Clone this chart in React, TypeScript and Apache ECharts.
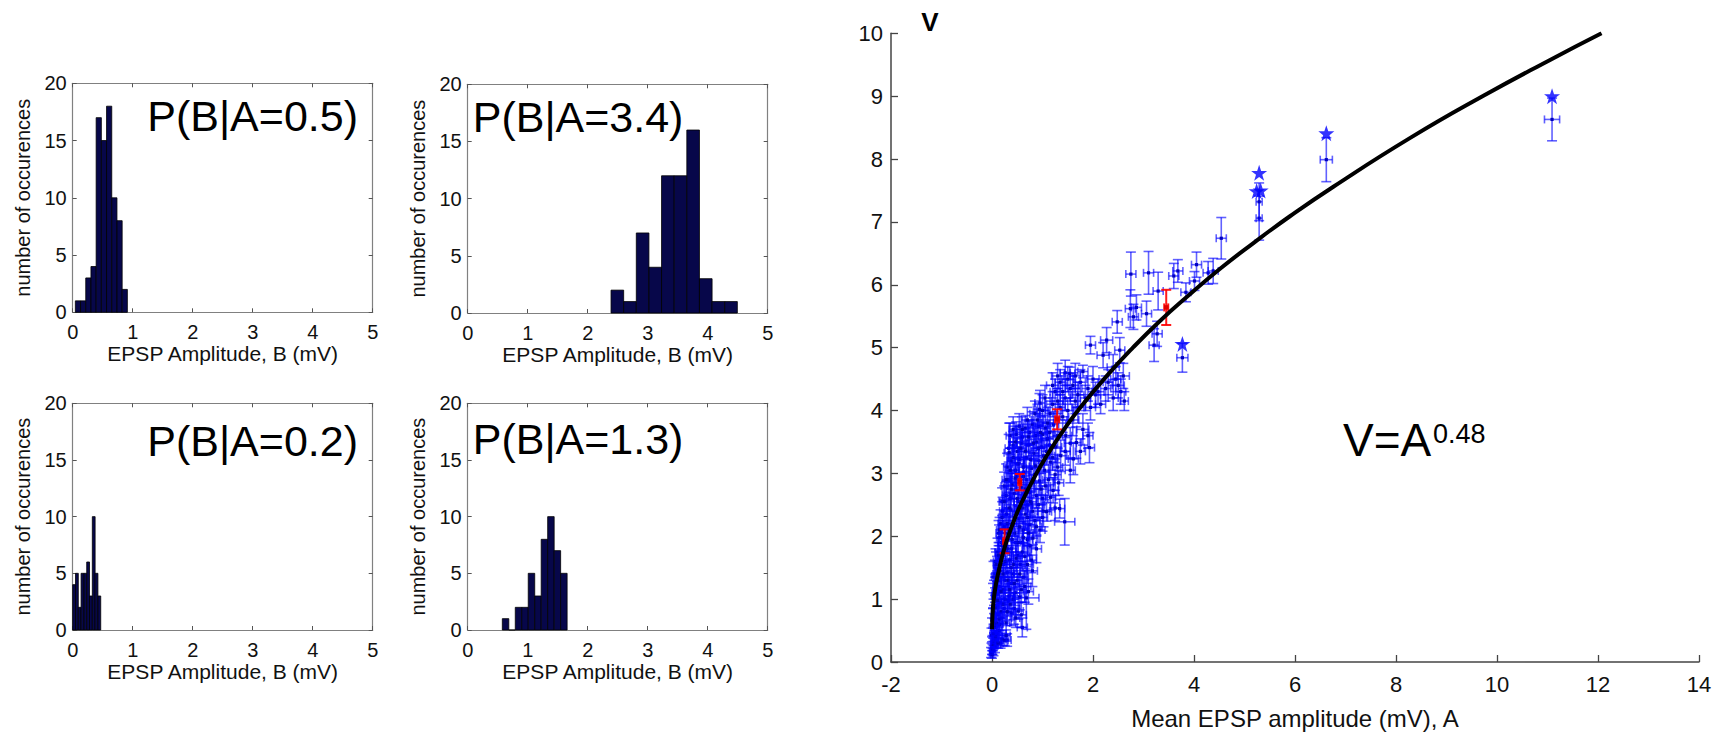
import React, { useEffect, useRef } from 'react';
import * as echarts from 'echarts';

const FONT = "'Liberation Sans', Arial, Helvetica, sans-serif";

// ---------- Histogram data (bin start, bin width, counts) ----------
const histLabels = ['P(B|A=0.5)', 'P(B|A=3.4)', 'P(B|A=0.2)', 'P(B|A=1.3)'];
const histStarts = [0.044, 2.389, 0.0, 0.577];
const histWidths = [0.0867, 0.2105, 0.0467, 0.108];
const countsA05 = [1, 1, 3, 4, 17, 15, 18, 10, 8, 2];
const countsA34 = [2, 1, 7, 4, 12, 12, 16, 3, 1, 1];
const countsA02 = [4, 5, 2, 5, 5, 6, 3, 10, 5, 3];
const countsA13 = [1, 0, 2, 2, 5, 3, 8, 10, 7, 5];
const histCounts = [countsA05, countsA34, countsA02, countsA13];
const histXTicks = [0, 1, 2, 3, 4, 5];
const histYTicks = [0, 5, 10, 15, 20];

// ---------- Right panel data ----------
// fitted curve V = A^0.48
const fitA = [0, 0.02, 0.05, 0.1, 0.2, 0.3, 0.45, 0.6, 0.88, 1.1, 1.4, 1.74, 2.26, 2.79, 3.32, 3.85, 4.51, 5.17, 5.9, 6.76, 8.29, 9.74, 11.06, 12.07];
const fitV = [0.52, 0.88, 1.09, 1.33, 1.68, 1.95, 2.28, 2.56, 3.0, 3.3, 3.67, 4.04, 4.54, 5.0, 5.42, 5.8, 6.25, 6.66, 7.09, 7.56, 8.34, 9.01, 9.58, 10.0];

// blue points: [A, V, errA, errV]
const bluePoints: number[][] = [
  [0.0, 0.12, 0.03, 0.06], [0.01, 0.2, 0.03, 0.08], [0.02, 0.28, 0.04, 0.1], [0.04, 0.33, 0.05, 0.12],
  [0.03, 0.45, 0.04, 0.12], [0.07, 0.4, 0.05, 0.1], [0.12, 0.3, 0.06, 0.08], [0.2, 0.36, 0.08, 0.1],
  [0.25, 0.34, 0.07, 0.08], [0.28, 0.42, 0.08, 0.09], [0.05, 0.55, 0.05, 0.14], [0.09, 0.62, 0.06, 0.15],
  [0.02, 0.7, 0.04, 0.16], [0.14, 0.68, 0.06, 0.18], [0.18, 0.8, 0.07, 0.2], [0.06, 0.86, 0.05, 0.2],
  [0.22, 0.92, 0.08, 0.22], [0.11, 0.98, 0.06, 0.2], [0.3, 0.8, 0.09, 0.22], [0.36, 0.92, 0.1, 0.25],
  [0.42, 1.0, 0.1, 0.25], [0.52, 0.81, 0.1, 0.13], [0.55, 1.03, 0.1, 0.2], [0.68, 1.02, 0.25, 0.5],
  [0.47, 0.7, 0.08, 0.15],
  [0.04, 1.1, 0.04, 0.2], [0.08, 1.22, 0.05, 0.2], [0.03, 1.35, 0.04, 0.25], [0.12, 1.3, 0.06, 0.2],
  [0.16, 1.45, 0.06, 0.25], [0.08, 1.55, 0.05, 0.2], [0.22, 1.4, 0.08, 0.2], [0.26, 1.6, 0.08, 0.25],
  [0.13, 1.7, 0.06, 0.2], [0.32, 1.3, 0.08, 0.2], [0.38, 1.5, 0.1, 0.25], [0.44, 1.25, 0.1, 0.25],
  [0.48, 1.65, 0.1, 0.25], [0.55, 1.4, 0.1, 0.2], [0.6, 1.75, 0.12, 0.3], [0.65, 1.2, 0.12, 0.25],
  [0.7, 1.55, 0.12, 0.3], [0.75, 1.85, 0.12, 0.25], [0.2, 1.85, 0.08, 0.25], [0.3, 1.8, 0.08, 0.25],
  [0.4, 1.95, 0.1, 0.25], [0.52, 1.9, 0.1, 0.3], [0.62, 1.98, 0.12, 0.25], [0.81, 1.97, 0.1, 0.1],
  [0.35, 1.15, 0.1, 0.2], [0.58, 1.15, 0.1, 0.2], [0.18, 1.12, 0.06, 0.2],
  [0.15, 2.1, 0.06, 0.2], [0.2, 2.3, 0.07, 0.25], [0.24, 2.55, 0.08, 0.25], [0.3, 2.2, 0.08, 0.25],
  [0.34, 2.45, 0.1, 0.25], [0.38, 2.75, 0.1, 0.25], [0.44, 2.3, 0.1, 0.3], [0.5, 2.6, 0.1, 0.25],
  [0.55, 2.15, 0.12, 0.25], [0.6, 2.45, 0.12, 0.25], [0.66, 2.75, 0.12, 0.25], [0.7, 2.3, 0.12, 0.25],
  [0.76, 2.55, 0.12, 0.25], [0.82, 2.85, 0.12, 0.25], [0.88, 2.15, 0.1, 0.15], [0.92, 2.5, 0.12, 0.25],
  [0.97, 2.75, 0.12, 0.25], [1.02, 2.4, 0.12, 0.25], [1.08, 2.39, 0.1, 0.15], [1.21, 2.73, 0.1, 0.2],
  [1.34, 2.44, 0.1, 0.15], [1.44, 2.23, 0.2, 0.37], [0.28, 2.9, 0.08, 0.25], [0.46, 2.92, 0.1, 0.25],
  [0.62, 2.95, 0.12, 0.3], [1.12, 2.9, 0.12, 0.25], [1.25, 2.98, 0.12, 0.25], [1.32, 2.85, 0.1, 0.2],
  [0.26, 2.05, 0.08, 0.2], [0.72, 2.05, 0.1, 0.2],
  [0.34, 3.33, 0.1, 0.47], [0.36, 3.05, 0.1, 0.25], [0.42, 3.25, 0.1, 0.25], [0.46, 3.5, 0.1, 0.25],
  [0.52, 3.15, 0.12, 0.25], [0.56, 3.4, 0.12, 0.25], [0.62, 3.1, 0.12, 0.25], [0.66, 3.35, 0.12, 0.25],
  [0.72, 3.58, 0.12, 0.25], [0.76, 3.22, 0.12, 0.25], [0.82, 3.48, 0.12, 0.25], [0.86, 3.12, 0.12, 0.25],
  [0.92, 3.4, 0.12, 0.25], [0.96, 3.65, 0.12, 0.25], [1.02, 3.28, 0.12, 0.25], [1.1, 3.55, 0.12, 0.25],
  [1.16, 3.18, 0.12, 0.25], [1.26, 3.42, 0.12, 0.25], [1.36, 3.28, 0.12, 0.25], [1.46, 3.6, 0.12, 0.25],
  [1.55, 3.48, 0.12, 0.25], [1.61, 3.23, 0.1, 0.25], [1.67, 3.49, 0.1, 0.25], [1.93, 3.41, 0.1, 0.24],
  [1.8, 3.7, 0.12, 0.25], [0.9, 3.85, 0.12, 0.25], [1.0, 4.0, 0.12, 0.25], [1.1, 3.8, 0.12, 0.25],
  [1.2, 4.1, 0.12, 0.2], [0.94, 4.02, 0.12, 0.25], [1.3, 4.15, 0.12, 0.2], [1.4, 3.9, 0.12, 0.25],
  [1.5, 4.0, 0.12, 0.2], [1.6, 3.85, 0.12, 0.25], [1.7, 4.05, 0.12, 0.25], [0.6, 3.7, 0.12, 0.2],
  [0.7, 3.85, 0.12, 0.2],
  [1.2, 4.4, 0.12, 0.2], [1.3, 4.55, 0.12, 0.2], [1.4, 4.3, 0.12, 0.2], [1.5, 4.5, 0.12, 0.2],
  [1.54, 4.59, 0.1, 0.1], [1.6, 4.4, 0.12, 0.2], [1.7, 4.25, 0.12, 0.2], [1.8, 4.62, 0.1, 0.1],
  [1.9, 4.35, 0.12, 0.2], [2.0, 4.5, 0.12, 0.2], [2.1, 4.3, 0.12, 0.2], [2.2, 4.88, 0.12, 0.2],
  [2.27, 5.12, 0.12, 0.2], [2.4, 4.69, 0.12, 0.2], [2.4, 4.2, 0.1, 0.2], [2.5, 4.4, 0.12, 0.2],
  [2.6, 4.55, 0.12, 0.2], [1.95, 5.04, 0.1, 0.14], [2.3, 4.45, 0.1, 0.2], [2.15, 4.1, 0.1, 0.15],
  [2.75, 6.17, 0.1, 0.35], [3.1, 6.19, 0.1, 0.34], [3.29, 5.9, 0.1, 0.3], [3.6, 6.14, 0.1, 0.2],
  [3.68, 6.22, 0.1, 0.18], [4.05, 6.32, 0.1, 0.2], [4.28, 6.19, 0.1, 0.18], [4.54, 6.74, 0.1, 0.33],
  [3.84, 5.88, 0.1, 0.15], [4.01, 6.06, 0.1, 0.15], [3.06, 5.54, 0.1, 0.2], [3.21, 5.04, 0.1, 0.26],
  [3.27, 5.22, 0.1, 0.2], [2.74, 5.62, 0.1, 0.3], [2.8, 5.49, 0.1, 0.2], [2.48, 5.41, 0.1, 0.18],
  [2.53, 4.96, 0.1, 0.2], [2.86, 5.64, 0.1, 0.2], [4.38, 6.22, 0.1, 0.2], [5.29, 7.06, 0.06, 0.35],
  [5.29, 7.32, 0.06, 0.3], [3.77, 4.84, 0.11, 0.23], [6.62, 7.99, 0.12, 0.35], [11.09, 8.63, 0.15, 0.34],
];

// the dense core of the blue cloud: [A, V, errA, errV]
const blueCore: number[][] = [
  [-0.02, 0.15, 0.03, 0.08], [0.0, 0.22, 0.03, 0.1], [0.03, 0.18, 0.04, 0.08], [0.06, 0.25, 0.04, 0.1],
  [0.01, 0.32, 0.03, 0.1], [0.05, 0.38, 0.04, 0.12], [0.09, 0.33, 0.05, 0.1], [0.1, 0.45, 0.05, 0.12],
  [-0.01, 0.42, 0.03, 0.12], [0.14, 0.5, 0.05, 0.12], [0.17, 0.3, 0.05, 0.08], [0.3, 0.35, 0.08, 0.1],
  [0.0, 0.55, 0.03, 0.15], [0.04, 0.62, 0.04, 0.15], [0.08, 0.58, 0.05, 0.15], [0.12, 0.75, 0.05, 0.2],
  [0.03, 0.8, 0.04, 0.2], [0.16, 0.6, 0.06, 0.18], [0.2, 0.7, 0.06, 0.2], [0.24, 0.85, 0.07, 0.2],
  [0.09, 0.9, 0.05, 0.2], [0.28, 0.62, 0.07, 0.18], [0.32, 0.98, 0.08, 0.25], [0.14, 0.95, 0.05, 0.2],
  [0.38, 0.78, 0.08, 0.2], [0.26, 1.0, 0.07, 0.2], [0.44, 0.85, 0.1, 0.25], [0.6, 0.55, 0.1, 0.15],
  [0.58, 0.75, 0.1, 0.2],
  [0.02, 1.05, 0.03, 0.2], [0.06, 1.15, 0.04, 0.2], [0.1, 1.08, 0.05, 0.2], [0.14, 1.2, 0.05, 0.2],
  [0.18, 1.35, 0.06, 0.2], [0.22, 1.15, 0.06, 0.2], [0.26, 1.3, 0.07, 0.2], [0.3, 1.42, 0.08, 0.22],
  [0.34, 1.05, 0.08, 0.2], [0.38, 1.25, 0.08, 0.2], [0.42, 1.4, 0.08, 0.22], [0.46, 1.1, 0.09, 0.2],
  [0.5, 1.3, 0.1, 0.25], [0.06, 1.4, 0.04, 0.22], [0.1, 1.48, 0.05, 0.2], [0.62, 1.35, 0.1, 0.25],
  [0.72, 1.12, 0.1, 0.2], [0.8, 1.45, 0.1, 0.25],
  [0.07, 1.6, 0.04, 0.2], [0.11, 1.75, 0.05, 0.22], [0.15, 1.65, 0.05, 0.2], [0.19, 1.9, 0.06, 0.22],
  [0.23, 1.55, 0.06, 0.2], [0.27, 1.75, 0.07, 0.2], [0.31, 1.95, 0.07, 0.22], [0.35, 1.62, 0.08, 0.2],
  [0.39, 1.8, 0.08, 0.22], [0.43, 1.55, 0.08, 0.2], [0.47, 1.9, 0.09, 0.22], [0.51, 1.7, 0.09, 0.2],
  [0.56, 1.55, 0.1, 0.2], [0.6, 1.9, 0.1, 0.22], [0.65, 1.68, 0.1, 0.2], [0.7, 1.95, 0.1, 0.25],
  [0.78, 1.62, 0.1, 0.2], [0.88, 1.8, 0.1, 0.22], [0.14, 1.98, 0.05, 0.2],
  [0.13, 2.05, 0.05, 0.2], [0.17, 2.2, 0.05, 0.22], [0.21, 2.4, 0.06, 0.22], [0.25, 2.15, 0.06, 0.2],
  [0.29, 2.35, 0.07, 0.22], [0.33, 2.12, 0.07, 0.2], [0.37, 2.42, 0.08, 0.22], [0.41, 2.2, 0.08, 0.2],
  [0.45, 2.05, 0.08, 0.2], [0.49, 2.38, 0.09, 0.22], [0.53, 2.28, 0.09, 0.2], [0.57, 2.45, 0.1, 0.22],
  [0.62, 2.1, 0.1, 0.2], [0.66, 2.35, 0.1, 0.22], [0.7, 2.5, 0.1, 0.22], [0.74, 2.18, 0.1, 0.2],
  [0.8, 2.4, 0.1, 0.22], [0.85, 2.25, 0.1, 0.2], [0.95, 2.1, 0.1, 0.2], [1.0, 2.3, 0.1, 0.22],
  [0.2, 2.55, 0.06, 0.22], [0.24, 2.8, 0.06, 0.22], [0.28, 2.65, 0.07, 0.22], [0.32, 2.9, 0.07, 0.22],
  [0.36, 2.6, 0.08, 0.2], [0.4, 2.82, 0.08, 0.22], [0.44, 2.68, 0.08, 0.2], [0.48, 2.95, 0.09, 0.22],
  [0.52, 2.55, 0.09, 0.2], [0.58, 2.78, 0.1, 0.22], [0.64, 2.62, 0.1, 0.2], [0.68, 2.9, 0.1, 0.22],
  [0.74, 2.7, 0.1, 0.22], [0.78, 2.52, 0.1, 0.2], [0.84, 2.98, 0.1, 0.22], [0.88, 2.65, 0.1, 0.2],
  [0.94, 2.88, 0.1, 0.22], [1.0, 2.6, 0.1, 0.2], [1.06, 2.8, 0.1, 0.22], [1.16, 2.62, 0.1, 0.2],
  [0.3, 3.1, 0.07, 0.22], [0.33, 3.4, 0.07, 0.22], [0.38, 3.2, 0.08, 0.2], [0.42, 3.45, 0.08, 0.22],
  [0.46, 3.05, 0.08, 0.2], [0.5, 3.35, 0.09, 0.22], [0.54, 3.22, 0.09, 0.2], [0.58, 3.48, 0.1, 0.22],
  [0.63, 3.02, 0.1, 0.2], [0.68, 3.25, 0.1, 0.22], [0.73, 3.45, 0.1, 0.22], [0.78, 3.08, 0.1, 0.2],
  [0.83, 3.32, 0.1, 0.22], [0.88, 3.5, 0.1, 0.22], [0.93, 3.2, 0.1, 0.2], [0.98, 3.42, 0.1, 0.22],
  [1.04, 3.05, 0.1, 0.2], [1.08, 3.35, 0.1, 0.22], [1.14, 3.45, 0.1, 0.22], [1.2, 3.25, 0.1, 0.2],
  [1.3, 3.1, 0.1, 0.2], [1.45, 3.35, 0.1, 0.22],
  [0.36, 3.6, 0.08, 0.2], [0.42, 3.7, 0.08, 0.2], [0.48, 3.62, 0.09, 0.2], [0.54, 3.75, 0.09, 0.2],
  [0.6, 3.58, 0.1, 0.2], [0.66, 3.72, 0.1, 0.2], [0.74, 3.65, 0.1, 0.2], [0.8, 3.78, 0.1, 0.2],
  [0.86, 3.6, 0.1, 0.2], [0.92, 3.75, 0.1, 0.2], [1.0, 3.62, 0.1, 0.2], [1.06, 3.72, 0.1, 0.2],
  [1.14, 3.65, 0.1, 0.2], [1.22, 3.78, 0.1, 0.2], [1.3, 3.6, 0.1, 0.2],
  [0.85, 3.95, 0.1, 0.2], [0.95, 4.12, 0.1, 0.2], [1.05, 4.2, 0.1, 0.2], [1.15, 3.95, 0.1, 0.2],
  [1.25, 4.3, 0.1, 0.2], [1.35, 4.05, 0.1, 0.2], [1.45, 4.2, 0.1, 0.2], [1.55, 4.35, 0.1, 0.2],
  [1.65, 4.15, 0.1, 0.2], [1.75, 4.45, 0.1, 0.2], [1.85, 4.2, 0.1, 0.2], [1.95, 4.05, 0.1, 0.2],
  [1.35, 4.45, 0.1, 0.2], [1.45, 4.6, 0.1, 0.2], [1.65, 4.55, 0.1, 0.2], [2.05, 4.25, 0.1, 0.2],
  [2.25, 4.35, 0.1, 0.2], [2.45, 4.5, 0.1, 0.2], [2.55, 4.3, 0.1, 0.2], [2.62, 4.15, 0.08, 0.15],
  [1.55, 3.05, 0.1, 0.2], [1.75, 3.35, 0.1, 0.2], [1.9, 3.6, 0.1, 0.2], [1.25, 2.45, 0.1, 0.2],
];

// red points: [A, V, errA, errV]
const redPoints: number[][] = [
  [0.25, 1.92, 0.03, 0.19], [0.55, 2.86, 0.03, 0.13], [1.29, 3.86, 0.04, 0.16], [3.45, 5.64, 0.04, 0.28],
];

// star markers: [A, V]
const starPoints: number[][] = [
  [5.29, 7.78], [5.24, 7.49], [5.32, 7.5], [3.77, 5.06], [6.62, 8.41], [11.09, 9.0],
];

const rightXTicks = [-2, 0, 2, 4, 6, 8, 10, 12, 14];
const rightYTicks = [0, 1, 2, 3, 4, 5, 6, 7, 8, 9, 10];

const STAR = 'path://M50,2 L61.8,36.2 L97.6,36.2 L68.6,57.4 L79.6,91.6 L50,70.4 L20.4,91.6 L31.4,57.4 L2.4,36.2 L38.2,36.2 Z';

const histGrids = [
  { left: 72.7, top: 83.3, width: 300, height: 229 },
  { left: 467.7, top: 84.3, width: 300, height: 228.7 },
  { left: 72.7, top: 403.3, width: 300, height: 226.7 },
  { left: 467.7, top: 403.3, width: 300, height: 226.7 },
];

function errorBarRender(color: string, dotColor: string, lw: number, dot: number) {
  return (params: any, api: any) => {
    const a = api.value(0), v = api.value(1), da = api.value(2), dv = api.value(3);
    const c = api.coord([a, v]);
    const t = api.coord([a, v + dv]);
    const b = api.coord([a, v - dv]);
    const l = api.coord([a - da, v]);
    const r = api.coord([a + da, v]);
    const cap = 5, hcap = 4;
    const style = { stroke: color, lineWidth: lw, fill: 'none' };
    return {
      type: 'group',
      children: [
        { type: 'line', shape: { x1: t[0], y1: t[1], x2: b[0], y2: b[1] }, style },
        { type: 'line', shape: { x1: t[0] - cap, y1: t[1], x2: t[0] + cap, y2: t[1] }, style },
        { type: 'line', shape: { x1: b[0] - cap, y1: b[1], x2: b[0] + cap, y2: b[1] }, style },
        { type: 'line', shape: { x1: l[0], y1: l[1], x2: r[0], y2: r[1] }, style },
        { type: 'line', shape: { x1: l[0], y1: l[1] - hcap, x2: l[0], y2: l[1] + hcap }, style },
        { type: 'line', shape: { x1: r[0], y1: r[1] - hcap, x2: r[0], y2: r[1] + hcap }, style },
        { type: 'rect', shape: { x: c[0] - dot / 2, y: c[1] - dot / 2, width: dot, height: dot }, style: { fill: dotColor } },
      ],
    };
  };
}

function histRender(params: any, api: any) {
  const x0 = api.value(0), x1 = api.value(1), h = api.value(2);
  const p0 = api.coord([x0, 0]);
  const p1 = api.coord([x1, h]);
  return {
    type: 'rect',
    shape: { x: p0[0], y: p1[1], width: p1[0] - p0[0], height: p0[1] - p1[1] },
    style: { fill: '#07074a', stroke: '#000', lineWidth: 0.8 },
  };
}

export default function App() {
  const ref = useRef<HTMLDivElement>(null);
  useEffect(() => {
    if (!ref.current) return;
    const chart = echarts.init(ref.current, undefined, { renderer: 'svg' });

    const grids: any[] = histGrids.map((g) => ({ ...g, containLabel: false }));
    grids.push({ left: 891, top: 33.3, width: 808, height: 635 });

    const xAxes: any[] = [];
    const yAxes: any[] = [];
    const series: any[] = [];
    const gray = '#808080';

    histGrids.forEach((g, i) => {
      const common = {
        type: 'value',
        gridIndex: i,
        splitLine: { show: false },
        axisLine: { show: true, onZero: false, lineStyle: { color: gray, width: 1.2 } },
        axisTick: { show: true, inside: true, length: 4, lineStyle: { color: '#555', width: 1 } },
      };
      xAxes.push({
        ...common,
        position: 'bottom',
        min: histXTicks[0],
        max: histXTicks[histXTicks.length - 1],
        interval: 1,
        axisLabel: { show: true, fontSize: 20, color: '#111', fontFamily: FONT, margin: 10 },
        name: 'EPSP Amplitude, B (mV)',
        nameLocation: 'middle',
        nameGap: 31,
        nameTextStyle: { fontSize: 21, color: '#111', fontFamily: FONT },
      });
      xAxes.push({
        ...common,
        position: 'top',
        min: histXTicks[0],
        max: histXTicks[histXTicks.length - 1],
        interval: 1,
        axisLabel: { show: false },
      });
      yAxes.push({
        ...common,
        position: 'left',
        min: histYTicks[0],
        max: histYTicks[histYTicks.length - 1],
        interval: 5,
        axisLabel: { show: true, fontSize: 20, color: '#111', fontFamily: FONT, margin: 6 },
        name: 'number of occurences',
        nameLocation: 'middle',
        nameGap: 40,
        nameTextStyle: { fontSize: 20, color: '#111', fontFamily: FONT },
      });
      yAxes.push({
        ...common,
        position: 'right',
        min: histYTicks[0],
        max: histYTicks[histYTicks.length - 1],
        interval: 5,
        axisLabel: { show: false },
      });
      const data = histCounts[i].map((c, k) => [
        histStarts[i] + k * histWidths[i],
        histStarts[i] + (k + 1) * histWidths[i],
        c,
      ]);
      series.push({
        type: 'custom',
        xAxisIndex: 2 * i,
        yAxisIndex: 2 * i,
        renderItem: histRender,
        encode: { x: [0, 1], y: 2 },
        data,
        silent: true,
      });
    });

    // right panel axes
    xAxes.push({
      type: 'value',
      gridIndex: 4,
      position: 'bottom',
      min: rightXTicks[0],
      max: rightXTicks[rightXTicks.length - 1],
      interval: 2,
      splitLine: { show: false },
      axisLine: { show: true, onZero: false, lineStyle: { color: '#444', width: 1.5 } },
      axisTick: { show: true, inside: true, length: 7, lineStyle: { color: '#444', width: 1.3 } },
      axisLabel: { fontSize: 22, color: '#111', fontFamily: FONT, margin: 11 },
      name: 'Mean EPSP amplitude (mV), A',
      nameLocation: 'middle',
      nameGap: 44,
      nameTextStyle: { fontSize: 24, color: '#111', fontFamily: FONT },
    });
    yAxes.push({
      type: 'value',
      gridIndex: 4,
      position: 'left',
      min: rightYTicks[0],
      max: rightYTicks[rightYTicks.length - 1],
      interval: 1,
      splitLine: { show: false },
      axisLine: { show: true, onZero: false, lineStyle: { color: '#444', width: 1.5 } },
      axisTick: { show: true, inside: true, length: 7, lineStyle: { color: '#444', width: 1.3 } },
      axisLabel: { fontSize: 22, color: '#111', fontFamily: FONT, margin: 8 },
    });

    series.push({
      type: 'custom',
      xAxisIndex: 8,
      yAxisIndex: 8,
      renderItem: errorBarRender('rgba(0,0,255,0.62)', '#0000c0', 1.6, 3.2),
      encode: { x: 0, y: 1 },
      data: blueCore.concat(bluePoints),
      silent: true,
      z: 2,
    });
    series.push({
      type: 'custom',
      xAxisIndex: 8,
      yAxisIndex: 8,
      renderItem: errorBarRender('rgba(255,0,0,0.9)', '#e00000', 2, 4.5),
      encode: { x: 0, y: 1 },
      data: redPoints,
      silent: true,
      z: 3,
    });
    series.push({
      type: 'line',
      xAxisIndex: 8,
      yAxisIndex: 8,
      data: fitA.map((a, i) => [a, fitV[i]]),
      showSymbol: false,
      smooth: true,
      lineStyle: { color: '#000', width: 4 },
      silent: true,
      z: 4,
    });
    series.push({
      type: 'scatter',
      xAxisIndex: 8,
      yAxisIndex: 8,
      data: starPoints,
      symbol: STAR,
      symbolSize: 16,
      itemStyle: { color: '#0000ff' },
      silent: true,
      z: 5,
    });

    const graphics: any[] = [
      { type: 'text', x: 358, y: 116, style: { text: histLabels[0], fontSize: 43, fontFamily: FONT, fill: '#000', align: 'right', verticalAlign: 'middle' } },
      { type: 'text', x: 472.7, y: 117, style: { text: histLabels[1], fontSize: 43, fontFamily: FONT, fill: '#000', align: 'left', verticalAlign: 'middle' } },
      { type: 'text', x: 358, y: 441, style: { text: histLabels[2], fontSize: 43, fontFamily: FONT, fill: '#000', align: 'right', verticalAlign: 'middle' } },
      { type: 'text', x: 472.7, y: 439, style: { text: histLabels[3], fontSize: 43, fontFamily: FONT, fill: '#000', align: 'left', verticalAlign: 'middle' } },
      { type: 'text', x: 930, y: 22, style: { text: 'V', fontSize: 26, fontWeight: 'bold', fontFamily: FONT, fill: '#000', align: 'center', verticalAlign: 'middle' } },
      { type: 'text', x: 1343, y: 440, style: { text: 'V=A', fontSize: 46, fontFamily: FONT, fill: '#000', align: 'left', verticalAlign: 'middle' } },
      { type: 'text', x: 1433, y: 434, style: { text: '0.48', fontSize: 27, fontFamily: FONT, fill: '#000', align: 'left', verticalAlign: 'middle' } },
    ];

    chart.setOption({
      animation: false,
      backgroundColor: '#fff',
      textStyle: { fontFamily: FONT },
      grid: grids,
      xAxis: xAxes,
      yAxis: yAxes,
      series,
      graphic: graphics,
    });
    return () => chart.dispose();
  }, []);

  return (
    <div
      ref={ref}
      style={{ position: 'fixed', left: 0, top: 0, width: 1729, height: 735, background: '#fff' }}
    />
  );
}
